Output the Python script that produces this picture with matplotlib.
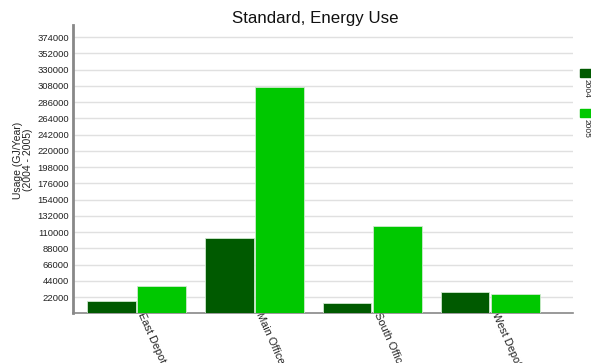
import matplotlib
matplotlib.use("Agg")
import matplotlib.pyplot as plt
import numpy as np

plt.rcParams['font.family'] = ['Liberation Sans', 'DejaVu Sans']

# Energy usage per site (GJ/year)
sites = ["East Depot", "Main Office", "South Office", "West Depot"]
usage_2004 = [17000, 102500, 13500, 29000]
usage_2005 = [37000, 307000, 118500, 25500]
series_labels = ["2004", "2005"]
colors = ["#005a00", "#00c800"]
yticks = list(range(22000, 374001, 22000))

W, H = 591, 363
fig = plt.figure(figsize=(W / 100, H / 100), dpi=100)
ax = fig.add_axes([73 / W, 1 - 313.3 / H, 500 / W, (313.3 - 25) / H])

x = np.arange(len(sites))
bw = 0.41
ax.bar(x - bw / 2 - 0.008, usage_2004, width=bw, color=colors[0],
       edgecolor="#cfe8cf", linewidth=0.6, zorder=3)
ax.bar(x + bw / 2 + 0.008, usage_2005, width=bw, color=colors[1],
       edgecolor="#cfe8cf", linewidth=0.6, zorder=3)

ax.set_xlim(-0.538, 3.70)
ax.set_ylim(0, 390500)
ax.set_yticks(yticks)
ax.set_yticklabels([str(v) for v in yticks], fontsize=6.8, color="#222222")
ax.tick_params(axis="y", length=0, pad=3)
ax.grid(axis="y", color="#e0e0e0", linewidth=1, zorder=0)

ax.set_xticks(x)
ax.set_xticklabels(sites, rotation=-66, ha="left", va="bottom",
                   rotation_mode="anchor", fontsize=7.9, color="#222222")
ax.tick_params(axis="x", length=0, pad=1)

for s in ["top", "right"]:
    ax.spines[s].set_visible(False)
ax.spines["left"].set_color("#888888")
ax.spines["left"].set_linewidth(2)
ax.spines["bottom"].set_color("#888888")
ax.spines["bottom"].set_linewidth(1.2)

fig.text(315 / W, 1 - 18 / H, "Standard, Energy Use", ha="center",
         va="center", fontsize=12.2, color="#111111")
fig.text(23 / W, 1 - 160 / H, "Usage (GJ/Year)\n(2004 - 2005)", rotation=90,
         ha="center", va="center", fontsize=7.5, linespacing=0.9,
         color="#222222")

# Legend: swatch with vertical label beneath
for i, (lab, c) in enumerate(zip(series_labels, colors)):
    top = 69 + i * 40
    fig.patches.append(plt.Rectangle((580 / W, 1 - (top + 7.5) / H),
                                     12 / W, 7.5 / H, color=c,
                                     transform=fig.transFigure))
    fig.text(583 / W, 1 - (top + 10) / H, lab, rotation=-90, ha="left",
             va="top", fontsize=6, color="#222222")

fig.savefig("out.png", dpi=100)
